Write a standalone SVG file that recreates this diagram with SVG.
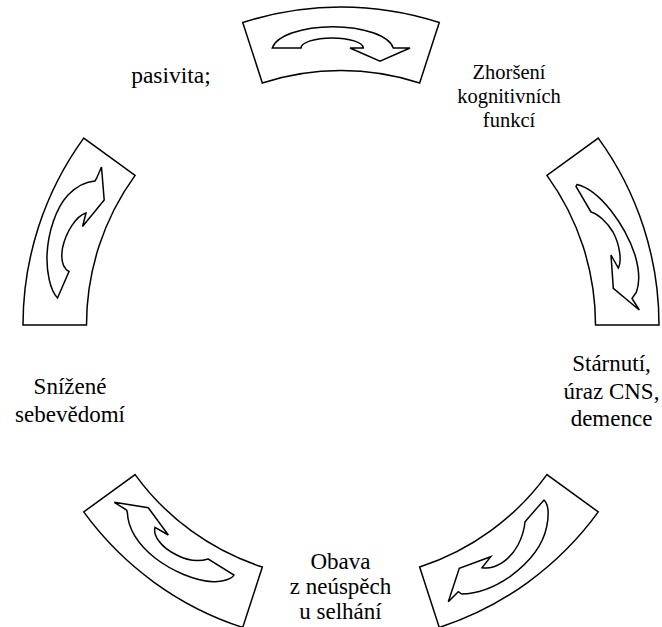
<svg xmlns="http://www.w3.org/2000/svg" xmlns:xlink="http://www.w3.org/1999/xlink" width="662" height="627" viewBox="0 0 662 627">
<style>
.box{fill:#fff;stroke:#000;stroke-width:1.5;stroke-linejoin:miter}
.arr{fill:#fff;stroke:#000;stroke-width:1.5;stroke-linejoin:miter}
.lbl{font-family:'Liberation Serif','Times New Roman','DejaVu Serif',serif;fill:#000;text-anchor:middle}
</style>
<defs>
<path id="sector" d="M242.73,22.56 A318,318 0 0 1 439.27,22.56 L419.65,82.95 A254.5,254.5 0 0 0 262.35,82.95 Z"/>
</defs>
<rect width="662" height="627" fill="#fff"/>
<g id="node-top">
<use xlink:href="#sector" href="#sector" class="box"/>
<path class="arr" d="M272.3,48 A61,24.5 0 0 1 393.3,48 L410,48 L380,61.3 L350,48 L363.3,48 A31,10 0 0 0 301,48 Z"/>
</g>
<g id="node-right">
<use xlink:href="#sector" href="#sector" class="box" transform="rotate(72 341 325)"/>
<path class="arr" d="M577,184.5 C600,190 625,225 635,255 C640,272 639,285 636.5,292 L632,298.5 L639.3,310 L613.3,288.3 L611,255 L618.3,268 C622,262 620,245 613,232 C607,222 598,214 591,212 L576,186.5 Z"/>
</g>
<g id="node-bottom-right">
<use xlink:href="#sector" href="#sector" class="box" transform="rotate(144 341 325)"/>
<path class="arr" d="M544,500 C549,505 549,515 546.7,526.7 C543,545 530,562 510,576.7 C495,587 478,594 461.7,594 L458.3,591.7 L448.3,601.7 L459.3,568.3 L490.7,556.7 L482,567.7 C495,570 510,560 518,545 C522,537 524.5,529 525,521.7 Z"/>
</g>
<g id="node-bottom-left">
<use xlink:href="#sector" href="#sector" class="box" transform="rotate(216 341 325)"/>
<path class="arr" d="M114.3,502.3 L148.3,507.7 L168.3,535 L155,527.3 C153,535 160,547 176.7,555 C186,560 198,562 208.3,559 L234,575 C232,579 222,582 213.3,581.7 C195,581 172,571 155,558 C140,546 128,530 127.3,512 L126.5,510 Z"/>
</g>
<g id="node-left">
<use xlink:href="#sector" href="#sector" class="box" transform="rotate(288 341 325)"/>
<path class="arr" d="M101.5,167 L104.2,200 L82.5,226.5 L86,213 C76,216 66,232 62.5,248 C60.5,260 63,268 69,271.5 L57.5,298 C50,290 46.5,272 47,255 C48,232 56,208 68,195 C76,187 86,181.5 95,181 L96.5,178.5 Z"/>
</g>
<g id="connectors"></g>
<g id="labels">
<text class="lbl" font-family="'Liberation Serif','Times New Roman',serif" x="171" y="83" font-size="23.5">pasivita;</text>
<text class="lbl" font-family="'Liberation Serif','Times New Roman',serif" font-size="20.5"><tspan x="509" y="79">Zhoršení</tspan><tspan x="509" y="103">kognitivních</tspan><tspan x="509" y="127">funkcí</tspan></text>
<text class="lbl" font-family="'Liberation Serif','Times New Roman',serif" font-size="23"><tspan x="611.5" y="371">Stárnutí,</tspan><tspan x="611.5" y="398.5">úraz CNS,</tspan><tspan x="611.5" y="426">demence</tspan></text>
<text class="lbl" font-family="'Liberation Serif','Times New Roman',serif" font-size="23"><tspan x="340.5" y="568.5">Obava</tspan><tspan x="340.5" y="593.5">z neúspěch</tspan><tspan x="340.5" y="619">u selhání</tspan></text>
<text class="lbl" font-family="'Liberation Serif','Times New Roman',serif" font-size="23"><tspan x="70" y="393.5">Snížené</tspan><tspan x="70" y="422">sebevědomí</tspan></text>
</g>
</svg>
